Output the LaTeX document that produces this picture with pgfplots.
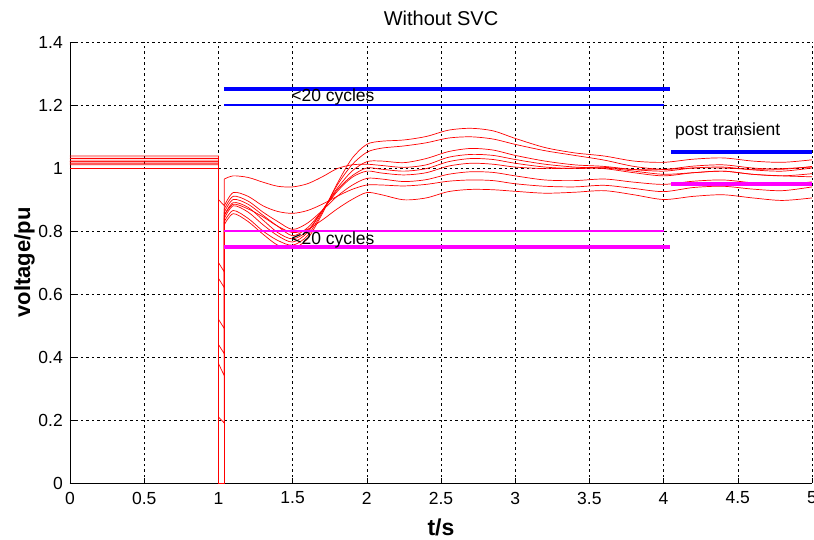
\documentclass[border=0pt]{standalone}
\usepackage{fontspec}
\setmainfont{Liberation Sans}
\usepackage{pgfplots}
\usepackage{pgfplotstable}
\pgfplotsset{compat=1.18}
\definecolor{mag}{RGB}{255,0,255}
\definecolor{blu}{RGB}{0,0,255}
\definecolor{rd}{RGB}{255,0,0}

\pgfplotstableread{
t    A     B     C     D     E     F     G     H     I
1.04 0.82  0.83  0.84  0.965 0.85  0.86  0.87  0.88  0.85
1.1  0.855 0.865 0.88  0.975 0.89  0.90  0.91  0.922 0.885
1.2  0.83  0.84  0.86  0.97  0.875 0.885 0.895 0.91  0.87
1.3  0.79  0.80  0.82  0.955 0.835 0.85  0.86  0.88  0.845
1.4  0.755 0.77  0.785 0.942 0.795 0.815 0.83  0.862 0.815
1.5  0.745 0.755 0.765 0.94  0.775 0.785 0.805 0.856 0.795
1.6  0.775 0.785 0.795 0.95  0.80  0.81  0.825 0.865 0.805
1.7  0.855 0.86  0.865 0.972 0.865 0.865 0.865 0.885 0.835
1.8  0.95  0.945 0.935 0.998 0.93  0.925 0.91  0.91  0.87
1.9  1.03  1.01  0.99  1.01  0.975 0.97  0.945 0.932 0.90
2.0  1.075 1.05  1.02  1.012 1.0   0.99  0.967 0.946 0.922
2.1  1.085 1.063 1.022 1.008 0.996 0.984 0.965 0.946 0.915
2.25 1.089 1.070 1.017 1.002 0.99  0.978 0.957 0.943 0.899
2.4  1.10  1.08  1.03  1.01  0.998 0.985 0.963 0.948 0.905
2.55 1.12  1.095 1.052 1.034 1.02  1.006 0.98  0.958 0.925
2.7  1.126 1.099 1.062 1.043 1.03  1.015 0.988 0.962 0.932
2.85 1.118 1.092 1.057 1.04  1.027 1.012 0.986 0.96  0.931
3.0  1.094 1.075 1.04  1.027 1.015 1.003 0.975 0.95  0.926
3.2  1.065 1.055 1.022 1.012 1.003 0.998 0.962 0.942 0.92
3.4  1.048 1.04  1.01  1.003 0.998 1.0   0.96  0.94  0.923
3.6  1.038 1.025 1.005 0.998 1.0   1.002 0.965 0.945 0.928
3.8  1.022 1.005 0.995 0.985 0.99  0.995 0.955 0.935 0.915
4.0  1.018 0.996 0.99  0.975 0.98  0.995 0.948 0.925 0.90
4.2  1.028 1.006 1.0   0.985 0.985 1.0   0.958 0.938 0.91
4.4  1.032 1.01  1.003 0.99  0.99  1.0   0.962 0.942 0.915
4.6  1.022 1.0   0.994 0.98  0.98  0.996 0.953 0.933 0.905
4.8  1.018 0.996 0.99  0.975 0.975 0.998 0.948 0.928 0.897
5.0  1.026 1.005 1.0   0.982 0.972 1.003 0.956 0.94  0.905
}\post

\begin{document}
\begin{tikzpicture}
\useasboundingbox (-70bp,-57bp) rectangle (744bp,483bp);
\begin{axis}[
  at={(0,0)}, anchor=south west,
  scale only axis, width=742bp, height=441bp,
  xmin=0, xmax=5, ymin=0, ymax=1.4,
  axis x line=bottom, axis y line=left,
  axis line style={-, line width=0.8bp, black},
  xtick={0,0.5,1,1.5,2,2.5,3,3.5,4,4.5,5},
  ytick={0,0.2,0.4,0.6,0.8,1,1.2,1.4},
  tick align=inside, major tick length=5bp,
  tick style={black, line width=0.6bp},
  grid=major,
  major grid style={black, line width=0.6bp, dash pattern=on 2.5bp off 3bp},
  /pgf/number format/assume math mode=true,
  tick label style={font=\fontsize{17.5bp}{20bp}\selectfont, inner sep=0pt},
  xticklabel style={anchor=center, yshift=-15bp},
  yticklabel style={anchor=east, xshift=-7bp},
  xlabel={\fontsize{23bp}{25bp}\selectfont\bfseries t/s},
  xlabel style={at={(axis description cs:0.5,-0.0998)}, anchor=center, inner sep=0pt},
  ylabel={\fontsize{22bp}{24bp}\selectfont\bfseries voltage/pu},
  ylabel style={at={(axis description cs:-0.0613,0.5)}, anchor=center, inner sep=0pt},
  clip=false,
]
% pre-fault and fault segments
\addplot[rd, line width=0.7bp] coordinates {(0,1.0) (1,1.0) (1,0) (1.04,0) (1.04,0.82)};
\addplot[rd, line width=0.7bp] coordinates {(0,1.01) (1,1.01) (1,0.21) (1.04,0.19) (1.04,0.83)};
\addplot[rd, line width=0.7bp] coordinates {(0,1.015) (1,1.015) (1,0.38) (1.04,0.34) (1.04,0.84)};
\addplot[rd, line width=0.7bp] coordinates {(0,1.02) (1,1.02) (1,0.90) (1.04,0.88) (1.04,0.965)};
\addplot[rd, line width=0.7bp] coordinates {(0,1.025) (1,1.025) (1,0.52) (1.04,0.49) (1.04,0.85)};
\addplot[rd, line width=0.7bp] coordinates {(0,1.031) (1,1.031) (1,0.44) (1.04,0.41) (1.04,0.86)};
\addplot[rd, line width=0.7bp] coordinates {(0,1.038) (1,1.038) (1,0.65) (1.04,0.62) (1.04,0.87)};
\addplot[rd, line width=0.7bp] coordinates {(0,1.02) (1,1.02) (1,0.70) (1.04,0.67) (1.04,0.88)};
\addplot[rd, line width=0.7bp] coordinates {(0,1.031) (1,1.031) (1,0) (1.04,0) (1.04,0.85)};
% post-fault
\foreach \c in {A,B,C,D,E,F,G,H,I} {
  \addplot[rd, line width=0.7bp, smooth] table[x=t, y=\c] {\post};
}
% limit lines
\addplot[blu, line width=4bp] coordinates {(1.04,1.25) (4.04,1.25)};
\addplot[blu, line width=1.3bp] coordinates {(1.04,1.2) (4.0,1.2)};
\addplot[mag, line width=4bp] coordinates {(1.04,0.75) (4.04,0.75)};
\addplot[mag, line width=1.3bp] coordinates {(1.04,0.8) (4.0,0.8)};
\addplot[blu, line width=4bp] coordinates {(4.05,1.05) (5.0,1.05)};
\addplot[mag, line width=4bp] coordinates {(4.05,0.95) (5.0,0.95)};
\node[anchor=west, inner sep=0pt, font=\fontsize{17.5bp}{20bp}\selectfont] at (axis cs:1.49,1.224) {<20 cycles};
\node[anchor=west, inner sep=0pt, font=\fontsize{17.5bp}{20bp}\selectfont] at (axis cs:1.49,0.772) {<20 cycles};
\node[anchor=west, inner sep=0pt, font=\fontsize{17.5bp}{20bp}\selectfont] at (axis cs:4.077,1.118) {post transient};
\node[anchor=center, inner sep=0pt, font=\fontsize{20bp}{22bp}\selectfont] at (rel axis cs:0.5,1.0544) {Without SVC};
\end{axis}
\end{tikzpicture}
\end{document}
